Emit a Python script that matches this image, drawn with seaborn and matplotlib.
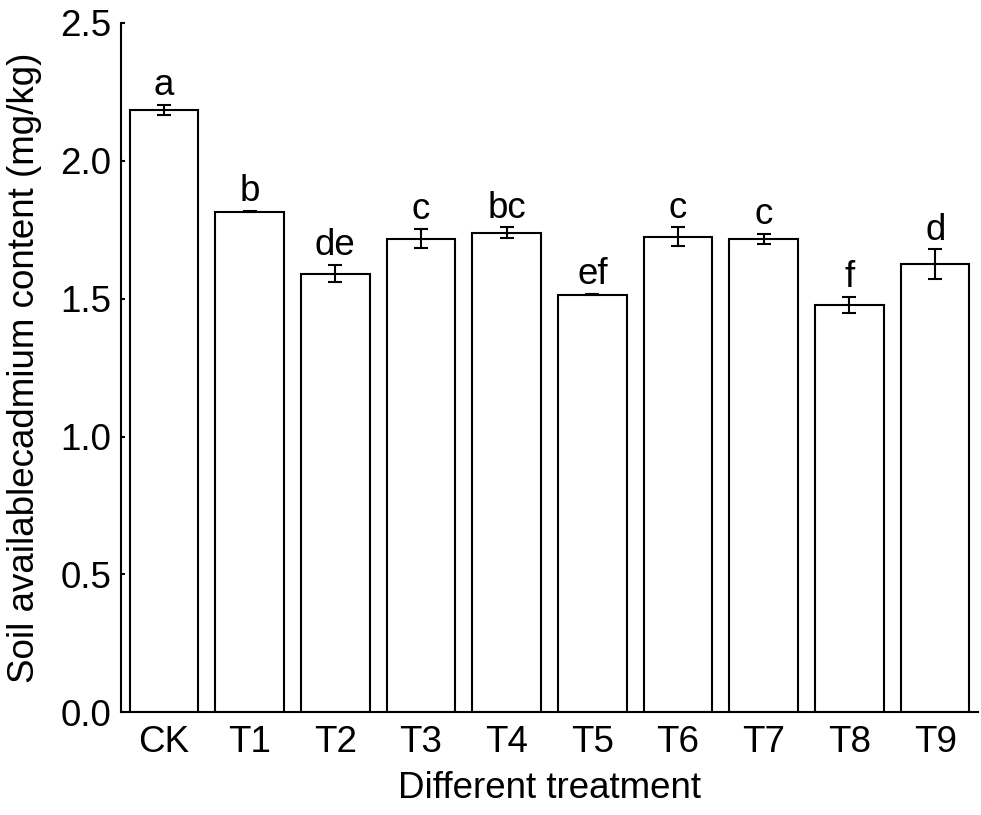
import matplotlib
matplotlib.use("Agg")
import matplotlib.pyplot as plt
import seaborn as sns
import pandas as pd

# data
treatments = ["CK", "T1", "T2", "T3", "T4", "T5", "T6", "T7", "T8", "T9"]
cd_mean = [2.185, 1.816, 1.591, 1.718, 1.740, 1.515, 1.725, 1.717, 1.477, 1.626]
cd_err = [0.018, 0.003, 0.031, 0.035, 0.019, 0.003, 0.034, 0.019, 0.030, 0.053]
sig_letters = ["a", "b", "de", "c", "bc", "ef", "c", "c", "f", "d"]

df = pd.DataFrame({"treatment": treatments, "mean": cd_mean, "err": cd_err})

sns.set_style("white")
plt.rcParams["font.family"] = ["Liberation Sans", "DejaVu Sans"]
plt.rcParams["text.color"] = "black"
plt.rcParams["axes.labelcolor"] = "black"
plt.rcParams["xtick.color"] = "black"
plt.rcParams["ytick.color"] = "black"

FS = 26.5

fig = plt.figure(figsize=(9.81, 8.15), dpi=100)
ax = fig.add_axes([0.1233, 0.126, 0.8737, 0.8458])

sns.barplot(data=df, x="treatment", y="mean", color="white", edgecolor="black",
            linewidth=1.5, width=0.8, errorbar=None, ax=ax)

# error bars (SD)
ax.errorbar(range(len(df)), df["mean"], yerr=df["err"], fmt="none",
            ecolor="black", elinewidth=1.5, capsize=5, capthick=1.5)

# significance letters
for i, (m, e, lab) in enumerate(zip(cd_mean, cd_err, sig_letters)):
    ax.text(i, m + e + 0.035, lab, ha="center", va="baseline", fontsize=FS, color="black")

ax.set_xlim(-0.5, 9.5)
ax.set_ylim(0, 2.5)
ax.set_yticks([0.0, 0.5, 1.0, 1.5, 2.0, 2.5])
ax.set_yticklabels(["0.0", "0.5", "1.0", "1.5", "2.0", "2.5"])

ax.set_xlabel("Different treatment", fontsize=FS, labelpad=8)
ax.set_ylabel("Soil availablecadmium content (mg/kg)", fontsize=FS, labelpad=13)

for side in ["top", "right"]:
    ax.spines[side].set_visible(False)
for side in ["left", "bottom"]:
    ax.spines[side].set_linewidth(1.5)
    ax.spines[side].set_color("black")

ax.tick_params(axis="y", direction="in", length=3, width=1.5, labelsize=FS, pad=7, left=True)
ax.tick_params(axis="x", length=0, labelsize=FS, pad=9)

fig.savefig("out.png", dpi=100)
